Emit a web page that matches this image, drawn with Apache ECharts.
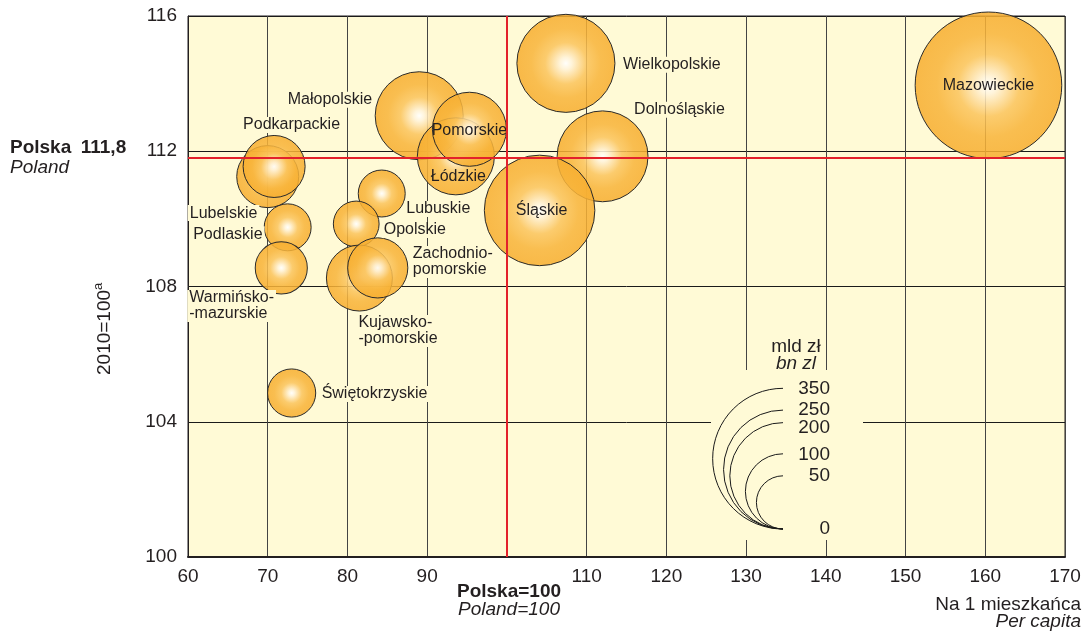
<!DOCTYPE html>
<html>
<head>
<meta charset="utf-8">
<script src="https://cdn.jsdelivr.net/npm/echarts@6/dist/echarts.min.js"></script>
<style>
html,body{margin:0;padding:0;background:#fff;}
#chart{width:1084px;height:632px;}
</style>
</head>
<body>
<div id="chart"></div>
<script>
// ---- data ----
var regions = ['Mazowieckie','Wielkopolskie','Dolnośląskie','Śląskie','Małopolskie','Łódzkie','Pomorskie',
  'Lubelskie','Podkarpackie','Podlaskie','Warmińsko-\n-mazurskie','Lubuskie','Opolskie','Kujawsko-\n-pomorskie',
  'Zachodnio-\npomorskie','Świętokrzyskie'];
var perCapita = [160.4, 107.4, 112.0, 104.1, 89.0, 93.6, 95.3, 70.0, 70.8, 72.5, 71.7, 84.3, 81.1, 81.5, 83.8, 73.0];
var dynamics  = [113.95, 114.6, 111.85, 110.25, 113.05, 111.85, 112.65, 111.25, 111.55, 109.75, 108.55, 110.75, 109.85, 108.25, 108.55, 104.85];
var gdpTotal  = [380, 170, 146, 216, 137, 105, 97, 68, 68, 39, 48, 39, 37, 77, 64, 41];
var polandX = 100;
var polandY = 111.8;
var xTicks = [60, 170, 10];
var yTicks = [100, 116, 4];
var sizeLegend = [350, 250, 200, 100, 50];

// ---- label placement (style) ----
var labelPlace = {
  'Mazowieckie':[0,0,'center',false],
  'Wielkopolskie':[55,1.5,'left',true],
  'Dolnośląskie':[29.5,-46.5,'left',true],
  'Śląskie':[2,0,'center',false],
  'Małopolskie':[-133.5,-16,'left',true],
  'Łódzkie':[2.5,20.5,'center',false],
  'Pomorskie':[0,1,'center',false],
  'Lubelskie':[-80,36.5,'left',true],
  'Podkarpackie':[-33,-41.5,'left',true],
  'Podlaskie':[-96.5,7,'left',true],
  'Warmińsko-\n-mazurskie':[-94,38,'left',true],
  'Lubuskie':[22.5,15.5,'left',true],
  'Opolskie':[25.5,6,'left',true],
  'Kujawsko-\n-pomorskie':[-3,53,'left',true],
  'Zachodnio-\npomorskie':[33,-6,'left',true],
  'Świętokrzyskie':[28,1,'left',true]
};

var BG = '#fffad6';
var TXT = '#231f20';
var FONT = 'Liberation Sans, Arial, Helvetica, sans-serif';
var K = 3.76; // px radius per sqrt(bn zl)
function radius(v){ return K*Math.sqrt(v); }

var bubbleColor = new echarts.graphic.RadialGradient(0.5,0.5,0.5,[
  {offset:0,color:'rgba(255,255,255,0.9)'},
  {offset:0.12,color:'rgba(255,243,218,0.88)'},
  {offset:0.42,color:'rgba(251,196,92,0.86)'},
  {offset:0.7,color:'rgba(248,180,58,0.86)'},
  {offset:1,color:'rgba(247,174,48,0.86)'}
]);

var data = regions.map(function(n,i){
  var p = labelPlace[n];
  return {
    name:n,
    value:[perCapita[i], dynamics[i], gdpTotal[i]],
    label:{
      show:true, position:'inside', offset:[p[0],p[1]], align:p[2], verticalAlign:'middle',
      formatter:n, color:TXT, fontSize:16, fontFamily:FONT,
      lineHeight:16,
      backgroundColor:p[3]?BG:'transparent', padding:p[3]?[0,2]:0
    }
  };
});

var chart = echarts.init(document.getElementById('chart'), null, {renderer:'canvas'});

var gridL = 188, gridT = 16, gridR = 19, gridB = 75;

var graphics = [
  {type:'text', left:10, top:138, style:{text:'Polska\u2002111,8', font:'bold 19px '+FONT, fill:TXT}},
  {type:'text', left:10, top:158, style:{text:'Poland', font:'italic 19px '+FONT, fill:TXT}},
  {type:'text', x:92, y:375, rotation:Math.PI/2, style:{
      text:'{n|2010=100}{s|a}', fill:TXT, textVerticalAlign:'top',
      rich:{n:{fontSize:19, fontFamily:FONT, fill:TXT, verticalAlign:'bottom'},
            s:{fontSize:13, fontFamily:FONT, fill:TXT, verticalAlign:'top', padding:[0,0,9,0]}}
  }},
  {type:'text', x:509, y:592, style:{text:'Polska=100', font:'bold 19px '+FONT, fill:TXT, textAlign:'center', textVerticalAlign:'middle'}},
  {type:'text', x:509, y:610, style:{text:'Poland=100', font:'italic 19px '+FONT, fill:TXT, textAlign:'center', textVerticalAlign:'middle'}},
  {type:'text', x:1081, y:605, style:{text:'Na 1 mieszkańca', font:'19px '+FONT, fill:TXT, textAlign:'right', textVerticalAlign:'middle'}},
  {type:'text', x:1081, y:622, style:{text:'Per capita', font:'italic 19px '+FONT, fill:TXT, textAlign:'right', textVerticalAlign:'middle'}},
  // legend backdrop
  {type:'rect', shape:{x:711, y:370, width:152, height:170}, style:{fill:BG}, z:10},
  {type:'text', x:796, y:347, z:11, style:{text:'mld zł', font:'19px '+FONT, fill:TXT, textAlign:'center', textVerticalAlign:'middle'}},
  {type:'text', x:796, y:364, z:11, style:{text:'bn zl', font:'italic 19px '+FONT, fill:TXT, textAlign:'center', textVerticalAlign:'middle'}},
  {type:'text', x:830, y:529, z:11, style:{text:'0', font:'19px '+FONT, fill:TXT, textAlign:'right', textVerticalAlign:'middle'}}
];
var legCx = 783, legBottom = 529;
var legNudge = {350:0, 250:0, 200:5, 100:1, 50:0};
sizeLegend.forEach(function(v){
  var r = radius(v);
  graphics.push({type:'arc', z:11, shape:{cx:legCx, cy:legBottom - r, r:r, startAngle:Math.PI/2, endAngle:Math.PI*1.5, clockwise:true},
    style:{stroke:'#1a1a1a', lineWidth:1, fill:null}});
  graphics.push({type:'text', z:11, x:830, y:legBottom - 2*r + legNudge[v], style:{text:String(v), font:'19px '+FONT, fill:TXT, textAlign:'right', textVerticalAlign:'middle'}});
});

var option = {
  backgroundColor:'#ffffff',
  animation:false,
  textStyle:{fontFamily:FONT},
  grid:{left:gridL, top:gridT, right:gridR, bottom:gridB, show:true, backgroundColor:BG, borderColor:'#231f20', borderWidth:1},
  xAxis:{
    type:'value', min:xTicks[0], max:xTicks[1], interval:xTicks[2],
    axisLine:{show:true, onZero:false, lineStyle:{color:'#231f20', width:2}},
    axisTick:{show:false},
    axisLabel:{fontSize:19, color:TXT, margin:10, formatter:function(v){return v===polandX?'':String(v);}},
    splitLine:{show:true, lineStyle:{color:'#444444', width:1}}
  },
  yAxis:{
    type:'value', min:yTicks[0], max:yTicks[1], interval:yTicks[2],
    axisLine:{show:true, onZero:false, lineStyle:{color:'#231f20', width:1}},
    axisTick:{show:false},
    axisLabel:{fontSize:19, color:TXT, margin:11},
    splitLine:{show:true, lineStyle:{color:'#1a1a1a', width:1}}
  },
  series:[
    {
      type:'line', data:[], z:1, silent:true,
      markLine:{silent:true, symbol:'none', label:{show:false}, animation:false,
        lineStyle:{color:'#e3212b', width:2, type:'solid'},
        data:[{xAxis:polandX},{yAxis:polandY}]}
    },
    {
      type:'scatter', z:3,
      data:data,
      symbolSize:function(d){ return 2*radius(d[2]); },
      itemStyle:{color:bubbleColor, opacity:1, borderColor:'#2a2a2a', borderWidth:1},
      emphasis:{disabled:true}
    }
  ],
  graphic:graphics
};
chart.setOption(option);
</script>
</body>
</html>
